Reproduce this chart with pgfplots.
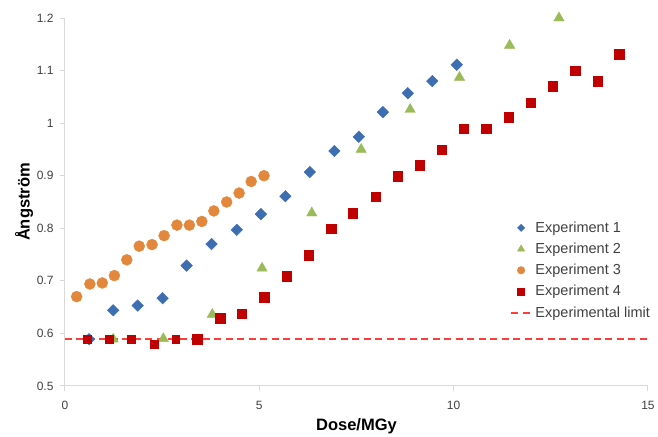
\documentclass[border=0pt]{standalone}
\usepackage{pgfplots}
\pgfplotsset{compat=1.18}
\usepackage{fontspec}
\setmainfont{Liberation Sans}
\definecolor{cblue}{RGB}{62,110,178}
\definecolor{cgreen}{RGB}{155,187,89}
\definecolor{corange}{RGB}{226,135,60}
\definecolor{cred}{RGB}{192,0,0}
\definecolor{climit}{RGB}{255,60,60}
\definecolor{axgray}{RGB}{217,217,217}
\definecolor{txtgray}{RGB}{64,64,64}
\begin{document}
\begin{tikzpicture}
\begin{axis}[
  scale only axis,
  width=583pt, height=368pt,
  xmin=0, xmax=15, ymin=0.5, ymax=1.2,
  xtick={0,5,10,15},
  ytick={0.5,0.6,0.7,0.8,0.9,1,1.1,1.2},
  axis x line*=bottom, axis y line*=left,
  axis line style={draw=axgray, line width=1pt, -},
  tick style={draw=axgray, line width=1pt},
  tick align=outside,
  major tick length=5pt,
  /pgf/number format/assume math mode=true,
  ticklabel style={font=\fontsize{12}{14}\selectfont, text=txtgray},
  xticklabel style={yshift=-7pt},
  yticklabel style={xshift=-3pt},
  xlabel={Dose/MGy},
  ylabel={Ångström},
  label style={font=\fontsize{16.5}{19}\selectfont\bfseries},
  xlabel style={at={(axis description cs:0.5,-0.1196)}, anchor=base},
  ylabel style={at={(axis description cs:-0.0703,0.5)}, anchor=center},
  clip=false,
  legend style={draw=none, fill=none, font=\fontsize{14.5}{17}\selectfont, text=txtgray,
    at={(axis description cs:1.007,0.452)}, anchor=north east,
    row sep=5.2pt, inner sep=0pt},
  legend cell align=left,
]
\addplot[only marks, mark=square*, mark size=4.1pt, mark options={rotate=45}, color=cblue,
  legend image post style={mark size=2.6pt}] coordinates {
(0.62,0.589) (1.24,0.644) (1.87,0.653) (2.51,0.667) (3.13,0.729) (3.77,0.770)
(4.42,0.797) (5.04,0.827) (5.67,0.861) (6.30,0.907) (6.93,0.947) (7.56,0.974)
(8.18,1.021) (8.82,1.057) (9.45,1.080) (10.08,1.111)};
\addlegendentry{Experiment 1}
\addplot[only marks, mark=triangle*, mark size=6pt, color=cgreen,
  legend image post style={mark size=4.2pt}] coordinates {
(1.24,0.589) (2.53,0.590) (3.79,0.636) (5.07,0.724) (6.35,0.829) (7.62,0.950)
(8.88,1.026) (10.15,1.087) (11.44,1.148) (12.71,1.200)};
\addlegendentry{Experiment 2}
\addplot[only marks, mark=*, mark size=5.5pt, color=corange,
  legend image post style={mark size=3.8pt}] coordinates {
(0.30,0.670) (0.64,0.694) (0.96,0.696) (1.27,0.710) (1.59,0.740) (1.91,0.766)
(2.24,0.769) (2.55,0.786) (2.88,0.806) (3.20,0.806) (3.52,0.813) (3.83,0.833)
(4.16,0.850) (4.48,0.867) (4.79,0.889) (5.12,0.900)};
\addlegendentry{Experiment 3}
\addplot[only marks, mark=square*, mark size=3.8pt, color=cred, forget plot] coordinates {
(0.57,0.589) (1.14,0.589) (1.70,0.589) (2.29,0.580) (2.85,0.589)};
\addplot[only marks, mark=square*, mark size=4.7pt, color=cred,
  legend image post style={mark size=3.6pt}] coordinates {
(3.40,0.589)
(3.99,0.629) (4.55,0.638) (5.13,0.669) (5.70,0.709) (6.27,0.749) (6.85,0.799)
(7.41,0.829) (7.99,0.860) (8.56,0.899) (9.12,0.920) (9.69,0.950) (10.26,0.990)
(10.84,0.990) (11.41,1.011) (11.98,1.039) (12.55,1.070) (13.13,1.100)
(13.70,1.080) (14.26,1.131)};
\addlegendentry{Experiment 4}
\addplot[climit, line width=1.8pt, dash pattern=on 7pt off 4.5pt,
  legend image code/.code={\draw[climit, line width=1.8pt, dash pattern=on 7pt off 5pt] (-2pt,0pt) -- (20pt,0pt);}]
  coordinates {(0,0.59) (15,0.59)};
\addlegendentry{Experimental limit}
\end{axis}
\path (current axis.south west) ++(-65pt,-51pt) rectangle ++(658pt,437pt);
\end{tikzpicture}
\end{document}
